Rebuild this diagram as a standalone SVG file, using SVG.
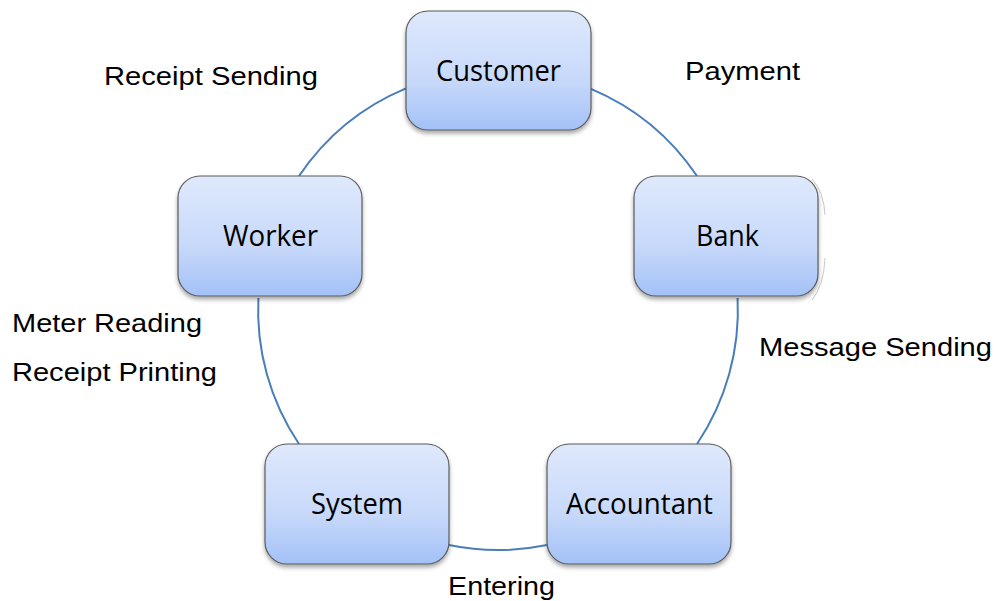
<svg xmlns="http://www.w3.org/2000/svg" width="997" height="601" viewBox="0 0 997 601">
<style>
.node rect{fill:url(#g);stroke:#5b5b5b;stroke-width:1.2;filter:url(#sh)}
.node text{font-family:"Open Sans","Noto Sans",sans-serif;font-size:30px;fill:#000;text-anchor:middle}
.lbl{font-family:"Liberation Sans",Arial,sans-serif;font-size:26px;fill:#000}
.conn path{fill:none;stroke:#4a7ebb;stroke-width:2}
.faint{fill:none;stroke:#c8c8c8;stroke-width:1}
</style>
<defs>
<linearGradient id="g" x1="0" y1="0" x2="0" y2="1">
<stop offset="0" stop-color="#dfe9fc"/>
<stop offset="0.6" stop-color="#c6d8fa"/>
<stop offset="1" stop-color="#a3c1f7"/>
</linearGradient>
<filter id="sh" x="-10%" y="-10%" width="120%" height="130%">
<feDropShadow dx="0" dy="3" stdDeviation="2" flood-color="#000" flood-opacity="0.35"/>
</filter>
</defs>
<rect width="997" height="601" fill="#fff"/>
<g id="connectors" class="conn">
<path d="M591 88.8 A240 240 0 0 1 697 176"/>
<path d="M737.6 298 A240 240 0 0 1 697 444"/>
<path d="M547 545 A240 240 0 0 1 449 545"/>
<path d="M299 444 A240 240 0 0 1 258.4 298"/>
<path d="M299 176 A240 240 0 0 1 406 88.3"/>
</g>
<path class="faint" d="M812 179 Q824 192 825 215"/>
<path class="faint" d="M825 258 Q824 285 812 300"/>
<g id="customer" class="node"><rect x="406" y="11" width="185" height="119" rx="22"/><text x="498.5" y="81" textLength="125" lengthAdjust="spacingAndGlyphs">Customer</text></g>
<g id="bank" class="node"><rect x="634" y="176" width="184" height="120" rx="22"/><text x="727.5" y="246" textLength="63" lengthAdjust="spacingAndGlyphs">Bank</text></g>
<g id="worker" class="node"><rect x="178" y="176" width="184" height="120" rx="22"/><text x="270.5" y="246" textLength="95" lengthAdjust="spacingAndGlyphs">Worker</text></g>
<g id="system" class="node"><rect x="265" y="444" width="184" height="120" rx="22"/><text x="357" y="514" textLength="92" lengthAdjust="spacingAndGlyphs">System</text></g>
<g id="accountant" class="node"><rect x="547" y="444" width="184" height="120" rx="22"/><text x="639.5" y="514" textLength="147" lengthAdjust="spacingAndGlyphs">Accountant</text></g>
<g id="labels">
<text class="lbl" x="104" y="85" textLength="214" lengthAdjust="spacingAndGlyphs">Receipt Sending</text>
<text class="lbl" x="685" y="80" textLength="115" lengthAdjust="spacingAndGlyphs">Payment</text>
<text class="lbl" x="759" y="356" textLength="233" lengthAdjust="spacingAndGlyphs">Message Sending</text>
<text class="lbl" x="12" y="332" textLength="190" lengthAdjust="spacingAndGlyphs">Meter Reading</text>
<text class="lbl" x="12" y="381" textLength="205" lengthAdjust="spacingAndGlyphs">Receipt Printing</text>
<text class="lbl" x="448" y="595" textLength="107" lengthAdjust="spacingAndGlyphs">Entering</text>
</g>
</svg>
